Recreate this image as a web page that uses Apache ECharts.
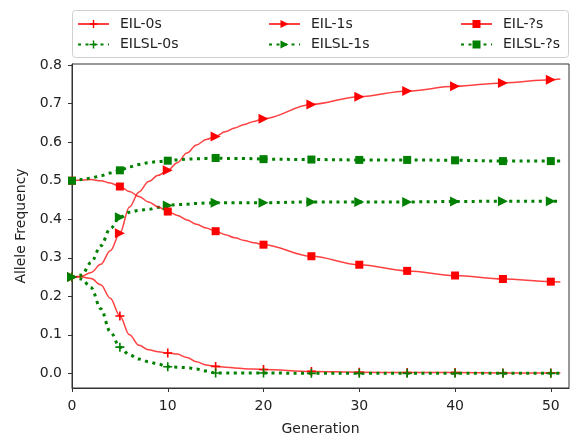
<!DOCTYPE html>
<html>
<head>
<meta charset="utf-8">
<script src="https://cdn.jsdelivr.net/npm/echarts@6/dist/echarts.min.js"></script>
<style>
  html, body { margin: 0; padding: 0; background: #fff; }
  #chart { width: 573px; height: 435px; }
</style>
</head>
<body>
<div id="chart"></div>
<script>
// generations sampled (every generation early on, then every 5)
const generations = [0, 1, 2, 3, 4, 5, 6, 7, 8, 9, 10, 11, 12, 13, 14, 15, 16, 17, 18, 19, 20,
    25, 30, 35, 40, 45, 50, 51];

const eil0s = [0.250, 0.250, 0.246, 0.230, 0.195, 0.149, 0.100, 0.073, 0.061, 0.056, 0.053,
    0.050, 0.041, 0.030, 0.022, 0.018, 0.016, 0.014, 0.012, 0.011, 0.010,
    0.005, 0.003, 0.002, 0.002, 0.001, 0.001, 0.001];
const eilsl0s = [0.250, 0.245, 0.222, 0.168, 0.108, 0.068, 0.048, 0.037, 0.030, 0.024, 0.017,
    0.016, 0.015, 0.011, 0.006, 0.001, 0.001, 0.001, 0.001, 0.001, 0.001,
    0.000, 0.000, 0.000, 0.000, 0.000, 0.000, 0.000];
const eil1s = [0.250, 0.252, 0.262, 0.283, 0.318, 0.364, 0.432, 0.471, 0.498, 0.514, 0.527,
    0.547, 0.572, 0.593, 0.607, 0.615, 0.627, 0.637, 0.646, 0.654, 0.661,
    0.698, 0.718, 0.733, 0.745, 0.754, 0.762, 0.764];
const eilsl1s = [0.250, 0.255, 0.288, 0.331, 0.376, 0.405, 0.418, 0.423, 0.426, 0.431, 0.436,
    0.438, 0.439, 0.441, 0.442, 0.443, 0.443, 0.443, 0.443, 0.443, 0.443,
    0.445, 0.445, 0.445, 0.446, 0.447, 0.447, 0.447];
const eilQs = [0.500, 0.502, 0.503, 0.500, 0.494, 0.485, 0.472, 0.459, 0.445, 0.432, 0.420,
    0.410, 0.398, 0.387, 0.377, 0.369, 0.360, 0.352, 0.345, 0.339, 0.334,
    0.304, 0.282, 0.266, 0.254, 0.245, 0.238, 0.237];
const eilslQs = [0.500, 0.503, 0.507, 0.513, 0.520, 0.527, 0.536, 0.542, 0.547, 0.550, 0.552,
    0.554, 0.556, 0.557, 0.558, 0.559, 0.558, 0.558, 0.558, 0.557, 0.556,
    0.555, 0.554, 0.554, 0.553, 0.551, 0.551, 0.551];

const xTicks = [0, 10, 20, 30, 40, 50];
const yTicks = [0, 0.1, 0.2, 0.3, 0.4, 0.5, 0.6, 0.7, 0.8];

const FONT = 'DejaVu Sans';
const RED = '#ff0000';
const GREEN = '#008000';
const PLUS = 'path://M4.1,0H5.9V4.1H10V5.9H5.9V10H4.1V5.9H0V4.1H4.1Z';

// markers only every 5 generations
function points(values) {
    return generations.map((g, i) => {
        let item = { value: [g, values[i]] };
        if (g % 5 !== 0) item.symbol = 'none';
        return item;
    });
}

function makeSeries(name, values, green, symbol, size, rotate) {
    return {
        name: name,
        type: 'line',
        data: points(values),
        smooth: 0.35,
        smoothMonotone: 'x',
        symbol: symbol,
        symbolSize: size,
        symbolRotate: rotate || 0,
        color: green ? GREEN : RED,
        itemStyle: { color: green ? GREEN : RED },
        lineStyle: green
            ? { color: GREEN, width: 3, type: [3, 4.5] }
            : { color: 'rgba(255,0,0,0.75)', width: 1.5 },
        emphasis: { disabled: true },
        animation: false
    };
}

const legendBase = {
    orient: 'vertical',
    top: 16,
    padding: 0,
    itemWidth: 31,
    itemHeight: 10,
    itemGap: 4.5,
    selectedMode: false,
    textStyle: { fontFamily: FONT, fontSize: 14, color: '#222', lineHeight: 16, padding: [0, 0, 0, 6] }
};

let chart = echarts.init(document.getElementById('chart'));
chart.setOption({
    backgroundColor: '#fff',
    animation: false,
    textStyle: { fontFamily: FONT },
    grid: {
        left: 72, right: 4, top: 64, bottom: 47,
        outerBoundsMode: 'none',
        show: true, borderColor: '#333', borderWidth: 1, backgroundColor: 'transparent'
    },
    legend: [
        Object.assign({}, legendBase, { left: 77, data: ['EIL-0s', 'EILSL-0s'] }),
        Object.assign({}, legendBase, { left: 268, data: ['EIL-1s', 'EILSL-1s'] }),
        Object.assign({}, legendBase, { left: 460, data: ['EIL-?s', 'EILSL-?s'] })
    ],
    graphic: [{
        type: 'rect',
        shape: { x: 72.5, y: 10.5, width: 496, height: 47, r: 3 },
        style: { fill: 'rgba(255,255,255,0.8)', stroke: '#d0d0d0', lineWidth: 1 },
        z: -1
    }],
    xAxis: {
        type: 'value',
        min: 0,
        max: 51.9,
        name: 'Generation',
        nameLocation: 'middle',
        nameGap: 34,
        nameTextStyle: { fontFamily: FONT, fontSize: 14, color: '#222' },
        splitLine: { show: false },
        axisLine: { onZero: false, lineStyle: { color: '#333', width: 1 } },
        axisTick: { customValues: xTicks, length: 4, lineStyle: { color: '#333' } },
        axisLabel: { customValues: xTicks, margin: 11, fontFamily: FONT, fontSize: 14, color: '#222' }
    },
    yAxis: {
        type: 'value',
        min: -0.038,
        max: 0.803,
        name: 'Allele Frequency',
        nameLocation: 'middle',
        nameGap: 43,
        nameTextStyle: { fontFamily: FONT, fontSize: 14, color: '#222' },
        splitLine: { show: false },
        axisLine: { show: true, onZero: false, lineStyle: { color: '#333', width: 1 } },
        axisTick: { show: true, customValues: yTicks, length: 4, lineStyle: { color: '#333' } },
        axisLabel: {
            customValues: yTicks, margin: 10, fontFamily: FONT, fontSize: 14, color: '#222',
            formatter: v => v.toFixed(1)
        }
    },
    series: [
        makeSeries('EIL-0s', eil0s, false, PLUS, 9),
        makeSeries('EILSL-0s', eilsl0s, true, PLUS, 9),
        makeSeries('EIL-1s', eil1s, false, 'triangle', 10, -90),
        makeSeries('EILSL-1s', eilsl1s, true, 'triangle', 10, -90),
        makeSeries('EIL-?s', eilQs, false, 'rect', 8),
        makeSeries('EILSL-?s', eilslQs, true, 'rect', 8)
    ]
});
</script>
</body>
</html>
